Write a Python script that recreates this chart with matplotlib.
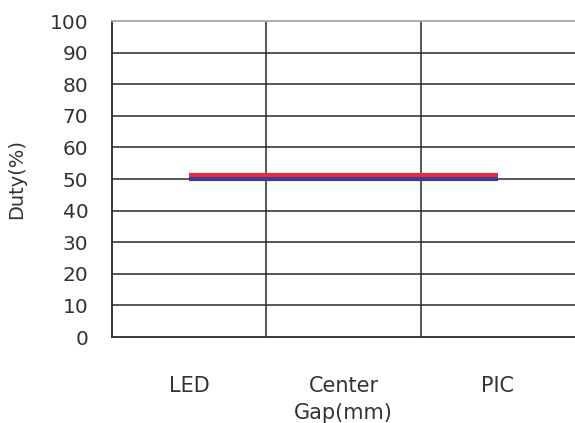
import matplotlib
matplotlib.use("Agg")
import matplotlib.pyplot as plt

categories = ["LED", "Center", "PIC"]
red_values = [51.2, 51.2, 51.2]
blue_values = [49.9, 49.9, 49.9]
yticks = [0, 10, 20, 30, 40, 50, 60, 70, 80, 90, 100]

W, H = 575, 423
fig = plt.figure(figsize=(W / 100, H / 100), dpi=100)
ax = fig.add_axes([112 / W, (H - 337) / H, (W - 112) / W, (337 - 21) / H])

x = list(range(len(categories)))
ax.plot(x, blue_values, color="#3b3b9c", linewidth=3.0, solid_capstyle="butt", zorder=3)
ax.plot(x, red_values, color="#ec2a3a", linewidth=3.0, solid_capstyle="butt", zorder=4)

ax.set_xlim(-0.5, len(categories) - 0.5)
ax.set_ylim(0, 100)
ax.set_yticks(yticks)
ax.set_xticks(x)
ax.set_xticklabels(categories)

for yv in yticks[1:-1]:
    ax.axhline(yv, color="#2a2a2a", linewidth=1.1, zorder=1)
for xv in [i + 0.5 for i in x[:-1]]:
    ax.axvline(xv, color="#2a2a2a", linewidth=1.1, zorder=1)

for s in ["left", "bottom"]:
    ax.spines[s].set_color("#2a2a2a")
    ax.spines[s].set_linewidth(1.3)
ax.spines["top"].set_color("#a0a8ad")
ax.spines["top"].set_linewidth(1.3)
ax.spines["right"].set_visible(False)

ax.tick_params(axis="both", length=0, colors="#333333")
ax.tick_params(axis="y", pad=17, labelsize=14.5)
ax.tick_params(axis="x", pad=28, labelsize=15)
ax.set_ylabel("Duty(%)", fontsize=14, color="#333333", labelpad=17)
ax.set_xlabel("Gap(mm)", fontsize=15, color="#333333", labelpad=5)

fig.savefig("out.png", dpi=100)
